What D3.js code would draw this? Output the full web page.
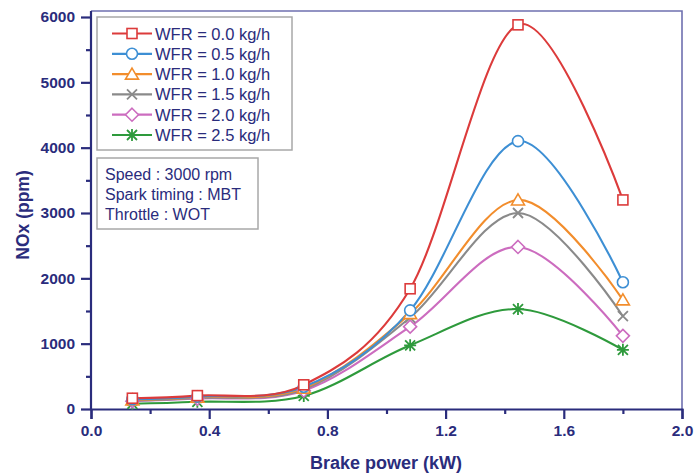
<!DOCTYPE html>
<html>
<head>
<meta charset="utf-8">
<script src="https://cdn.jsdelivr.net/npm/d3@7"></script>
<style>
  body { margin: 0; background: #fff; }
  text { font-family: "Liberation Sans", Arial, sans-serif; }
</style>
</head>
<body>
<div id="chart"></div>
<script>
const width = 694;
const height = 475;
const navy = "#2a2c7c";

const power = [0.14, 0.36, 0.72, 1.08, 1.445, 1.80];
const wfr = ["0.0", "0.5", "1.0", "1.5", "2.0", "2.5"];
const nox00 = [165, 205, 370, 1840, 5880, 3200];
const nox05 = [150, 190, 340, 1510, 4100, 1940];
const nox10 = [140, 180, 320, 1460, 3200, 1670];
const nox15 = [130, 170, 300, 1400, 3000, 1420];
const nox20 = [120, 160, 280, 1260, 2480, 1120];
const nox25 = [80, 110, 200, 975, 1530, 905];
const colors = ["#dc3b3b", "#3d8fd4", "#f28d2c", "#8a8a8a", "#cc6cbf", "#2e9a3c"];
const shapes = ["square", "circle", "triangle", "cross", "diamond", "star"];
const xTicks = [0.0, 0.4, 0.8, 1.2, 1.6, 2.0];
const yTicks = [0, 1000, 2000, 3000, 4000, 5000, 6000];
const conditions = ["Speed : 3000 rpm", "Spark timing : MBT", "Throttle : WOT"];

const series = [nox00, nox05, nox10, nox15, nox20, nox25].map((v, i) => ({
    name: "WFR = " + wfr[i] + " kg/h",
    color: colors[i],
    shape: shapes[i],
    values: v.map((y, j) => ({ x: power[j], y: y }))
}));

const svg = d3.select("#chart")
    .append("svg")
        .attr("width", width)
        .attr("height", height);

const x = d3.scaleLinear().domain([0, 2.0]).range([91, 682]);
const y = d3.scaleLinear().domain([0, 6000]).range([409, 17]);
const frameTop = 11;

// frame (top and right)
svg.append("path")
    .attr("d", `M${x(0)},${frameTop}H${x(2)}V${y(0)}`)
    .attr("fill", "none")
    .attr("stroke", "#6f70b0")
    .attr("stroke-width", 1.6);

// x axis
svg.append("g")
    .attr("transform", `translate(0,${y(0)})`)
    .call(d3.axisBottom(x).tickValues(xTicks).tickFormat(d3.format(".1f")).tickSize(10).tickPadding(6));
svg.append("g")
    .attr("transform", `translate(0,${y(0)})`)
    .call(d3.axisBottom(x).tickValues(d3.range(0.2, 2.0, 0.4)).tickFormat("").tickSize(5))
    .select(".domain").remove();

// y axis
const yAxis = svg.append("g")
    .attr("transform", `translate(${x(0)},0)`)
    .call(d3.axisLeft(y).tickValues(yTicks).tickSize(10).tickPadding(6).tickFormat(d3.format("d")));
yAxis.select(".domain").attr("d", `M0,${frameTop}V${y(0)}`);
svg.append("g")
    .attr("transform", `translate(${x(0)},0)`)
    .call(d3.axisLeft(y).tickValues(d3.range(500, 6000, 1000)).tickFormat("").tickSize(5))
    .select(".domain").remove();

svg.selectAll(".domain, .tick line")
    .attr("stroke", navy)
    .attr("stroke-width", 2.2);
svg.selectAll(".tick text")
    .attr("fill", navy)
    .attr("font-size", 15.5)
    .attr("font-weight", "bold");

svg.append("text")
    .attr("x", 386).attr("y", 469)
    .attr("text-anchor", "middle")
    .attr("fill", navy)
    .attr("font-size", 18).attr("font-weight", "bold")
    .text("Brake power (kW)");
svg.append("text")
    .attr("transform", "translate(29,215) rotate(-90)")
    .attr("text-anchor", "middle")
    .attr("fill", navy)
    .attr("font-size", 17.5).attr("font-weight", "bold")
    .text("NOx (ppm)");

// markers
function marker(g, shape, color) {
    const s = 5;
    if (shape === "square") {
        g.append("rect").attr("x", -s).attr("y", -s).attr("width", 2 * s).attr("height", 2 * s)
            .attr("fill", "#fff").attr("stroke", color).attr("stroke-width", 1.6);
    } else if (shape === "circle") {
        g.append("circle").attr("r", s + 0.5).attr("fill", "#fff").attr("stroke", color).attr("stroke-width", 1.6);
    } else if (shape === "triangle") {
        g.append("path").attr("d", `M0,${-s - 1}L${s + 1.5},${s}L${-s - 1.5},${s}Z`)
            .attr("fill", "#fff").attr("stroke", color).attr("stroke-width", 1.6);
    } else if (shape === "diamond") {
        g.append("path").attr("d", `M0,${-s - 1.5}L${s + 1.5},0L0,${s + 1.5}L${-s - 1.5},0Z`)
            .attr("fill", "#fff").attr("stroke", color).attr("stroke-width", 1.6);
    } else if (shape === "cross") {
        g.append("path").attr("d", `M${-s},${-s}L${s},${s}M${-s},${s}L${s},${-s}`)
            .attr("stroke", color).attr("stroke-width", 1.8);
    } else {
        g.append("path").attr("d", `M${-s},${-s}L${s},${s}M${-s},${s}L${s},${-s}M0,${-s - 1}V${s + 1}M${-s - 1},0H${s + 1}`)
            .attr("stroke", color).attr("stroke-width", 1.8);
    }
}

const line = d3.line()
    .x(d => x(d.x))
    .y(d => y(d.y))
    .curve(d3.curveCardinal.tension(0));

const plot = svg.append("g");
series.slice().reverse().forEach(s => {
    plot.append("path")
        .attr("d", line(s.values))
        .attr("fill", "none")
        .attr("stroke", s.color)
        .attr("stroke-width", 2.1);
});
series.slice().reverse().forEach(s => {
    s.values.forEach(d => {
        marker(plot.append("g").attr("transform", `translate(${x(d.x)},${y(d.y)})`), s.shape, s.color);
    });
});

// legend
const legend = svg.append("g");
legend.append("rect")
    .attr("x", 97).attr("y", 17).attr("width", 195).attr("height", 133)
    .attr("fill", "#fff").attr("stroke", "#a8a8a8").attr("stroke-width", 1.5);
series.forEach((s, i) => {
    const ly = 33.5 + i * 20.3;
    const row = legend.append("g").attr("transform", `translate(0,${ly})`);
    row.append("line").attr("x1", 112).attr("x2", 152).attr("y1", 0).attr("y2", 0)
        .attr("stroke", s.color).attr("stroke-width", 2.2);
    marker(row.append("g").attr("transform", "translate(132,0)"), s.shape, s.color);
    row.append("text").attr("x", 155).attr("y", 6)
        .attr("fill", navy).attr("font-size", 16.5)
        .text(s.name);
});

// conditions box
const info = svg.append("g");
info.append("rect")
    .attr("x", 97).attr("y", 158).attr("width", 161).attr("height", 71)
    .attr("fill", "#fff").attr("stroke", "#a8a8a8").attr("stroke-width", 1.5);
conditions.forEach((t, i) => {
    info.append("text").attr("x", 105).attr("y", 180 + i * 20)
        .attr("fill", navy).attr("font-size", 16)
        .text(t);
});
</script>
</body>
</html>
